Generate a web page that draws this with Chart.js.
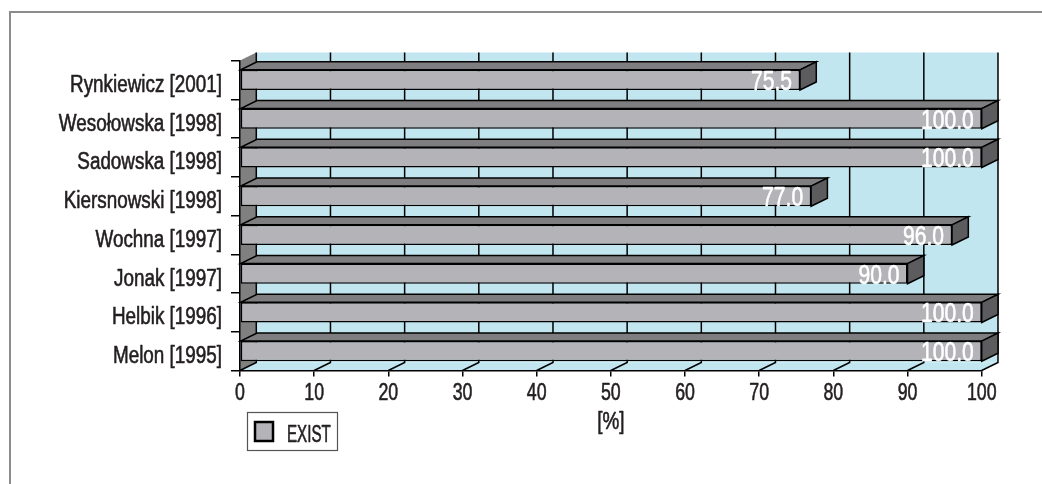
<!DOCTYPE html>
<html>
<head>
<meta charset="utf-8">
<script src="https://cdn.jsdelivr.net/npm/chart.js@4/dist/chart.umd.min.js"></script>
<style>
  html, body { margin: 0; padding: 0; background: #fff; }
  #wrap { width: 1042px; height: 484px; position: relative; }
</style>
</head>
<body>
<div id="wrap"><canvas id="c"></canvas></div>
<script>
// Studies and their EXIST share (%)
const categories = [
  'Rynkiewicz [2001]',
  'Wesołowska [1998]',
  'Sadowska [1998]',
  'Kiersnowski [1998]',
  'Wochna [1997]',
  'Jonak [1997]',
  'Helbik [1996]',
  'Melon [1995]'
];
const existValues = [75.5, 100.0, 100.0, 77.0, 96.0, 90.0, 100.0, 100.0];
const seriesName = 'EXIST';
const axisMin = 0;
const axisMax = 100;
const axisStep = 10;
const axisTitle = '[%]';

// look of the pseudo-3D box
const FONT = "'Liberation Sans', Arial, sans-serif";
const DX = 16.3, DY = 8;
const WALL = '#C1E6EF';
const SIDE_WALL = '#808080';
const BAR_FRONT = '#B4B4B8';
const BAR_TOP = '#7E7E80';
const BAR_RIGHT = '#5C5C5E';
const TEXT = '#231F20';

function poly(ctx, pts) {
  ctx.beginPath();
  ctx.moveTo(pts[0][0], pts[0][1]);
  for (let i = 1; i < pts.length; i++) ctx.lineTo(pts[i][0], pts[i][1]);
  ctx.closePath();
}

// condensed text: a regular face squeezed horizontally, stems slightly thickened
function narrowText(ctx, text, x, y, size, squeeze, align, color) {
  ctx.save();
  ctx.font = size + 'px ' + FONT;
  ctx.fillStyle = color;
  ctx.strokeStyle = color;
  ctx.lineWidth = 0.6;
  ctx.lineJoin = 'round';
  ctx.textAlign = align;
  ctx.textBaseline = 'alphabetic';
  ctx.translate(x, y);
  ctx.scale(squeeze, 1);
  ctx.fillText(text, 0, 0);
  ctx.strokeText(text, 0, 0);
  ctx.restore();
}

// back wall, floor, left wall and their grid
const box3d = {
  id: 'box3d',
  beforeDraw(chart) {
    const { ctx, chartArea: a, scales: { x } } = chart;
    ctx.save();
    ctx.fillStyle = '#fff';
    ctx.fillRect(0, 0, chart.width, chart.height);

    // page frame
    ctx.strokeStyle = '#8C8C8C';
    ctx.lineWidth = 2;
    ctx.beginPath();
    ctx.moveTo(10, chart.height);
    ctx.lineTo(10, 12);
    ctx.lineTo(chart.width, 12);
    ctx.stroke();

    // back wall
    ctx.fillStyle = WALL;
    ctx.fillRect(a.left + DX, a.top - DY, a.right - a.left, a.bottom - a.top);
    // floor
    poly(ctx, [[a.left, a.bottom], [a.right, a.bottom], [a.right + DX, a.bottom - DY], [a.left + DX, a.bottom - DY]]);
    ctx.fill();
    // left side wall
    ctx.fillStyle = SIDE_WALL;
    poly(ctx, [[a.left, a.top], [a.left + DX, a.top - DY], [a.left + DX, a.bottom - DY], [a.left, a.bottom]]);
    ctx.fill();

    // grid on wall and floor
    ctx.strokeStyle = '#000';
    ctx.lineWidth = 1.5;
    x.ticks.forEach(t => {
      const px = x.getPixelForValue(t.value);
      ctx.beginPath();
      ctx.moveTo(px + DX, a.top - DY);
      ctx.lineTo(px + DX, a.bottom - DY);
      ctx.lineTo(px, a.bottom);
      ctx.stroke();
    });
    ctx.restore();
  }
};

// top and end faces of the bars, value labels, axis labels and legend
const bars3d = {
  id: 'bars3d',
  beforeDatasetsDraw(chart) {
    const { ctx } = chart;
    const meta = chart.getDatasetMeta(0);
    ctx.save();
    ctx.lineWidth = 1.5;
    ctx.strokeStyle = '#000';
    ctx.lineJoin = 'miter';
    meta.data.forEach(bar => {
      const { x, y, base, height } = bar.getProps(['x', 'y', 'base', 'height'], true);
      const top = y - height / 2, bot = y + height / 2;
      ctx.fillStyle = BAR_TOP;
      poly(ctx, [[base, top], [x, top], [x + DX, top - DY], [base + DX, top - DY]]);
      ctx.fill(); ctx.stroke();
      ctx.fillStyle = BAR_RIGHT;
      poly(ctx, [[x, top], [x + DX, top - DY], [x + DX, bot - DY], [x, bot]]);
      ctx.fill(); ctx.stroke();
    });
    ctx.restore();
  },
  afterDatasetsDraw(chart) {
    const { ctx } = chart;
    const meta = chart.getDatasetMeta(0);
    const values = chart.data.datasets[0].data;
    meta.data.forEach((bar, i) => {
      const { x, y } = bar.getProps(['x', 'y'], true);
      narrowText(ctx, values[i].toFixed(1), x - 8, y + 10, 27, 0.78, 'right', '#fff');
    });
  },
  afterDraw(chart) {
    const { ctx, chartArea: a, scales: { x, y } } = chart;

    // category labels
    y.ticks.forEach((t, i) => {
      narrowText(ctx, chart.data.labels[i], a.left - 18, y.getPixelForTick(i) + 12, 23, 0.82, 'right', TEXT);
    });
    // value axis labels
    x.ticks.forEach(t => {
      narrowText(ctx, String(t.value), x.getPixelForValue(t.value), 400, 24, 0.74, 'center', TEXT);
    });
    // axis title
    narrowText(ctx, axisTitle, (a.left + a.right) / 2, 429, 23, 0.82, 'center', TEXT);

    // legend
    ctx.save();
    ctx.strokeStyle = '#555';
    ctx.lineWidth = 1.2;
    ctx.strokeRect(247.5, 412.5, 90, 38);
    ctx.fillStyle = BAR_FRONT;
    ctx.fillRect(255, 422, 18, 19);
    ctx.strokeStyle = '#000';
    ctx.lineWidth = 2.5;
    ctx.strokeRect(255, 422, 18, 19);
    ctx.restore();
    narrowText(ctx, chart.data.datasets[0].label, 287, 442, 23, 0.66, 'left', TEXT);
  }
};

new Chart(document.getElementById('c'), {
  type: 'bar',
  data: {
    labels: categories,
    datasets: [{
      label: seriesName,
      data: existValues,
      backgroundColor: BAR_FRONT,
      borderColor: '#000',
      borderWidth: 1.5,
      borderSkipped: false,
      categoryPercentage: 1,
      barPercentage: 0.52
    }]
  },
  options: {
    indexAxis: 'y',
    responsive: true,
    maintainAspectRatio: false,
    animation: false,
    events: [],
    layout: { padding: { top: 60.5, right: 60.3, left: 0, bottom: 0 } },
    plugins: { legend: { display: false }, tooltip: { enabled: false } },
    scales: {
      y: {
        type: 'category',
        offset: true,
        grid: { display: true, offset: true, drawOnChartArea: false, drawTicks: true, tickLength: 9, color: '#000', lineWidth: 1.5 },
        border: { display: true, color: '#000', width: 1.5 },
        ticks: { display: false, autoSkip: false },
        afterFit(s) { s.width = 240; }
      },
      x: {
        type: 'linear',
        min: axisMin,
        max: axisMax,
        grid: { display: true, drawOnChartArea: false, drawTicks: true, tickLength: 6, color: '#000', lineWidth: 1.5 },
        border: { display: true, color: '#000', width: 1.5 },
        ticks: { display: false, stepSize: axisStep },
        afterFit(s) { s.height = 113.5; }
      }
    }
  },
  plugins: [box3d, bars3d]
});
</script>
</body>
</html>
